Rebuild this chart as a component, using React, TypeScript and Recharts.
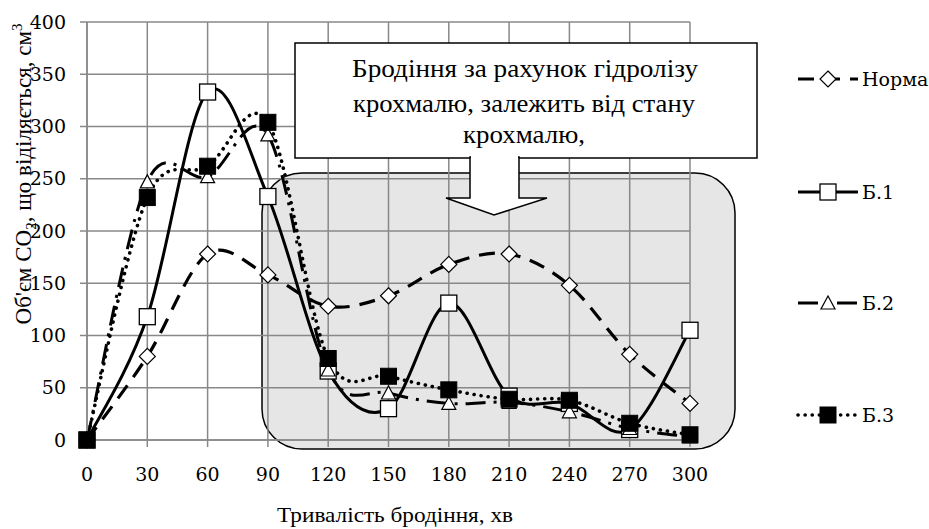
import React from 'react';
import { LineChart, Line, XAxis, YAxis, CartesianGrid } from 'recharts';

const minutes = [0, 30, 60, 90, 120, 150, 180, 210, 240, 270, 300];
const norma = [0, 80, 178, 158, 128, 138, 168, 178, 148, 82, 35];
const b1 = [0, 118, 333, 233, 66, 30, 131, 42, 35, 10, 105];
const b2 = [0, 247, 252, 292, 67, 45, 35, 36, 27, 11, 3];
const b3 = [0, 232, 262, 304, 78, 61, 48, 39, 38, 16, 5];
const xTicks = [0, 30, 60, 90, 120, 150, 180, 210, 240, 270, 300];
const yTicks = [0, 50, 100, 150, 200, 250, 300, 350, 400];
const seriesNames = ['Норма', 'Б.1', 'Б.2', 'Б.3'];

const data = minutes.map((m, i) => ({ x: m, norma: norma[i], b1: b1[i], b2: b2[i], b3: b3[i] }));

const WIDE = "'DejaVu Serif', serif";
const TIMES = "'Liberation Serif', 'Times New Roman', serif";
const fs = (family: string, size: number): React.CSSProperties => ({ fontFamily: family, fontSize: size });

// Excel-like smoothing (Catmull-Rom -> Bezier)
function excelCurve(context: any) {
  let pts: [number, number][] = [];
  return {
    areaStart() {},
    areaEnd() {},
    lineStart() {
      pts = [];
    },
    lineEnd() {
      const n = pts.length;
      if (!n) return;
      context.moveTo(pts[0][0], pts[0][1]);
      const k = 1 / 6;
      for (let i = 0; i < n - 1; i++) {
        const p0 = pts[i - 1] || pts[i];
        const p1 = pts[i];
        const p2 = pts[i + 1];
        const p3 = pts[i + 2] || p2;
        context.bezierCurveTo(
          p1[0] + (p2[0] - p0[0]) * k,
          p1[1] + (p2[1] - p0[1]) * k,
          p2[0] - (p3[0] - p1[0]) * k,
          p2[1] - (p3[1] - p1[1]) * k,
          p2[0],
          p2[1]
        );
      }
    },
    point(x: number, y: number) {
      pts.push([+x, +y]);
    },
  };
}

const DiamondMark = ({ cx, cy }: any) => (
  <path d={`M${cx},${cy - 8}L${cx + 8},${cy}L${cx},${cy + 8}L${cx - 8},${cy}Z`} fill="#fff" stroke="#000" strokeWidth={1.2} />
);
const SquareMark = ({ cx, cy }: any) => (
  <rect x={cx - 8} y={cy - 8} width={16} height={16} fill="#fff" stroke="#000" strokeWidth={1.3} />
);
const TriMark = ({ cx, cy }: any) => (
  <path d={`M${cx},${cy - 7}L${cx + 7},${cy + 6}L${cx - 7},${cy + 6}Z`} fill="#fff" stroke="#000" strokeWidth={1.2} />
);
const BlackSquareMark = ({ cx, cy }: any) => (
  <rect x={cx - 8} y={cy - 8} width={16} height={16} fill="#000" stroke="#000" strokeWidth={1} />
);

const styles = [
  { key: 'norma', dash: '16 10', width: 3.2, cap: 'butt', Mark: DiamondMark },
  { key: 'b1', dash: undefined, width: 3, cap: 'butt', Mark: SquareMark },
  { key: 'b2', dash: '20 8 3 8', width: 3, cap: 'butt', Mark: TriMark },
  { key: 'b3', dash: '0.1 7', width: 3.6, cap: 'round', Mark: BlackSquareMark },
];

const legendY = [79, 192, 303, 415];

export default function App() {
  return (
    <div style={{ position: 'absolute', left: 0, top: 0, width: 929, height: 529, background: '#fff' }}>
      <svg width={929} height={529} style={{ position: 'absolute', left: 0, top: 0 }}>
        <rect x={262} y={173} width={473} height={276} rx={40} ry={40} fill="#e6e6e6" stroke="#000" strokeWidth={1.5} />
      </svg>
      <div style={{ position: 'absolute', left: 0, top: 0 }}>
        <LineChart width={929} height={529} data={data} margin={{ top: 22, right: 239, bottom: 29, left: 0 }}>
          <CartesianGrid stroke="#888" strokeWidth={1.5} />
          <XAxis
            dataKey="x"
            type="number"
            domain={[0, 300]}
            ticks={xTicks}
            interval={0}
            height={60}
            tickSize={7}
            tickMargin={21}
            axisLine={{ stroke: '#888', strokeWidth: 1.5 }}
            tickLine={{ stroke: '#888', strokeWidth: 1.5 }}
            tick={{ fill: '#000', fontSize: 19, fontFamily: WIDE }}
          />
          <YAxis
            type="number"
            domain={[0, 400]}
            ticks={yTicks}
            interval={0}
            width={87}
            tickSize={7}
            tickMargin={14}
            axisLine={{ stroke: '#888', strokeWidth: 1.5 }}
            tickLine={{ stroke: '#888', strokeWidth: 1.5 }}
            tick={{ fill: '#000', fontSize: 19, fontFamily: WIDE }}
          />
          {styles.map((s, si) => (
            <Line
              key={s.key}
              dataKey={s.key}
              name={seriesNames[si]}
              type={excelCurve as any}
              stroke="#000"
              strokeWidth={s.width}
              strokeDasharray={s.dash}
              strokeLinecap={s.cap as any}
              isAnimationActive={false}
              activeDot={false}
              dot={(p: any) => <s.Mark key={`${s.key}-${p.index}`} cx={p.cx} cy={p.cy} />}
            />
          ))}
        </LineChart>
      </div>
      <svg width={929} height={529} style={{ position: 'absolute', left: 0, top: 0, pointerEvents: 'none' }}>
        {/* callout */}
        <rect x={295} y={43} width={462} height={115} fill="#fff" stroke="#000" strokeWidth={1.5} />
        <polygon points="470,157 470,198 446,198 494,215 547,198 519,198 519,157" fill="#fff" stroke="#000" strokeWidth={1.5} strokeLinejoin="miter" />
        <rect x={471} y={156} width={47} height={4} fill="#fff" />
        <g fill="#000" style={fs(TIMES, 25)}>
          <text x={352} y={77} textLength={346} lengthAdjust="spacingAndGlyphs">Бродіння за рахунок гідролізу</text>
          <text x={353} y={112} textLength={342} lengthAdjust="spacingAndGlyphs">крохмалю, залежить від стану</text>
          <text x={463} y={143} textLength={122} lengthAdjust="spacingAndGlyphs">крохмалю,</text>
        </g>
        {/* axis titles */}
        <text x={277} y={522} textLength={236} lengthAdjust="spacingAndGlyphs" fill="#000" style={fs(TIMES, 21)}>
          Тривалість бродіння, хв
        </text>
        <text transform="translate(31,174) rotate(-90)" textAnchor="middle" fill="#000" style={fs(TIMES, 23)}>
          Об'єм СО<tspan style={fs(TIMES, 15)} dy={5}>2</tspan>
          <tspan dy={-5}>, що віділяється, см</tspan>
          <tspan style={fs(TIMES, 15)} dy={-9}>3</tspan>
        </text>
        {/* legend */}
        {styles.map((s, i) => (
          <g key={s.key}>
            <line x1={798} x2={858} y1={legendY[i]} y2={legendY[i]} stroke="#000" strokeWidth={s.width} strokeDasharray={s.dash} strokeLinecap={s.cap as any} />
            <s.Mark cx={828} cy={legendY[i]} />
            <text x={862} y={legendY[i] + 7} fill="#000" style={fs(WIDE, 19)}>
              {seriesNames[i]}
            </text>
          </g>
        ))}
      </svg>
    </div>
  );
}
